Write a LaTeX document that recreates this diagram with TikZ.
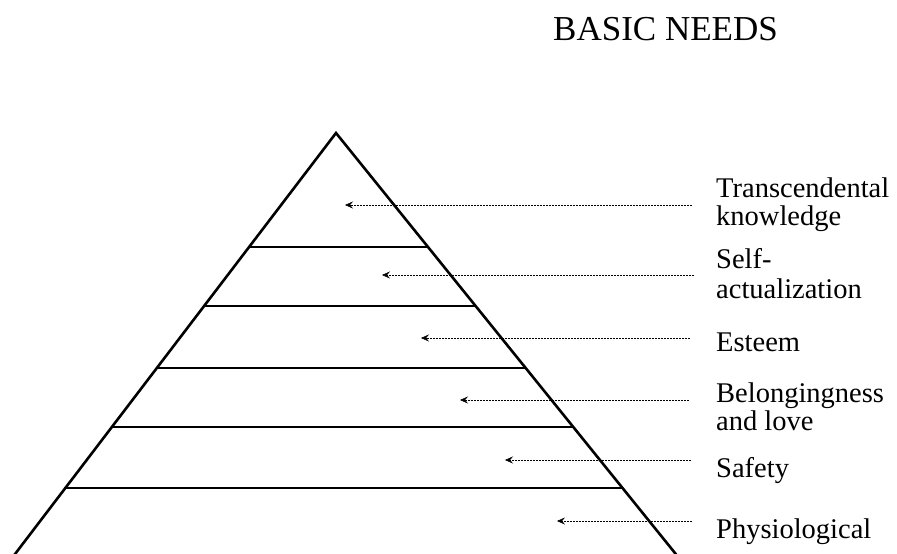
\documentclass[tikz,border=0pt]{standalone}
\usepackage{fontspec}
\setmainfont{Liberation Serif}
\usetikzlibrary{arrows.meta}
\begin{document}
\begin{tikzpicture}[x=1pt,y=-1pt,
  side/.style={line width=2.6pt},
  tier/.style={line width=2pt},
  pointer/.style={line width=0.9pt,dash pattern=on 2pt off 1pt,-{Stealth[length=8pt,width=7pt,inset=3pt,line width=0.5pt]}},
  lab/.style={anchor=base west,inner sep=0pt,font=\fontsize{28.5}{30}\selectfont},
  title/.style={anchor=base west,inner sep=0pt,font=\fontsize{35}{40}\selectfont}]
\useasboundingbox (0,0) rectangle (897,554);
% pyramid
\coordinate (apex) at (336,133);
\coordinate (bl) at (12,558);
\coordinate (br) at (679,558);
\draw[side] (bl) -- (apex) -- (br);
% tiers
\foreach \y/\xl/\xr/\n in {247/248/428/t1,306/203/476/t2,368/156/526/t3,427/111/574/t4,488/64/622/t5}{
  \coordinate (\n l) at (\xl,\y);
  \coordinate (\n r) at (\xr,\y);
  \draw[tier] (\n l) -- (\n r);
}
% title
\node[title] (title) at (553,40) {BASIC NEEDS};
% labels
\node[lab] (l1a) at (716,197) {Transcendental};
\node[lab] (l1b) at (716,225) {knowledge};
\node[lab] (l2a) at (716,268) {Self-};
\node[lab] (l2b) at (716,298) {actualization};
\node[lab] (l3) at (716,351) {Esteem};
\node[lab] (l4a) at (716,402) {Belongingness};
\node[lab] (l4b) at (716,430) {and love};
\node[lab] (l5) at (716,477) {Safety};
\node[lab] (l6) at (716,538) {Physiological};
% arrows
\foreach \y/\xs/\xt/\n in {205/692/345/a1,275/694/382/a2,338/690/421/a3,400/689/460/a4,460/691/505/a5,521/692/557/a6}{
  \coordinate (\n s) at (\xs,\y);
  \coordinate (\n t) at (\xt,\y);
  \draw[pointer] (\n s) -- (\n t);
}
\end{tikzpicture}
\end{document}
